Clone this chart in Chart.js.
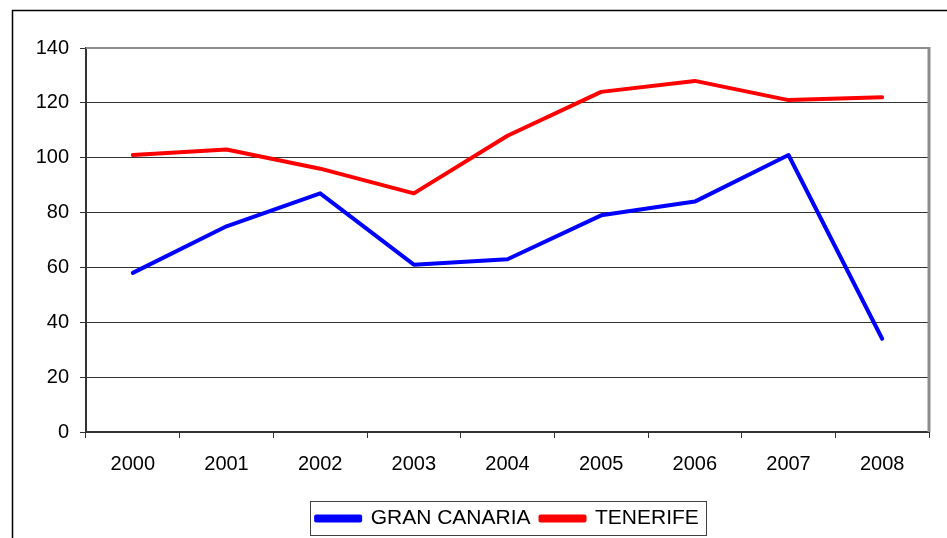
<!DOCTYPE html>
<html><head><meta charset="utf-8">
<script src="https://cdn.jsdelivr.net/npm/chart.js@4/dist/chart.umd.min.js"></script>
<style>html,body{margin:0;padding:0;background:#fff;}#wrap{width:947px;height:538px;position:relative;}canvas{display:block;}</style>
</head><body><div id="wrap"><canvas id="c" width="947" height="538"></canvas></div>
<script>
const years = ['2000','2001','2002','2003','2004','2005','2006','2007','2008'];
const granCanaria = [58, 75, 87, 61, 63, 79, 84, 101, 34];
const tenerife = [101, 103, 96, 87, 108, 124, 128, 121, 122];
const seriesNames = ['GRAN CANARIA', 'TENERIFE'];
const yMin = 0, yMax = 140, yStep = 20;

const FONT = "'Liberation Sans', Arial, sans-serif";

const framePlugin = {
  id: 'frame',
  beforeDraw(chart) {
    const ctx = chart.ctx;
    ctx.save();
    ctx.fillStyle = '#fff';
    ctx.fillRect(0, 0, chart.width, chart.height);
    ctx.strokeStyle = '#000';
    ctx.lineWidth = 1.5;
    ctx.strokeRect(12.5, 10.5, 1000, 1000);
    ctx.restore();
  },
  beforeDatasetsDraw(chart) {
    const {ctx, chartArea: a} = chart;
    ctx.save();
    ctx.strokeStyle = '#8c8c8c';
    ctx.lineWidth = 2;
    ctx.beginPath();
    ctx.moveTo(a.left, a.top);
    ctx.lineTo(a.right, a.top);
    ctx.stroke();
    ctx.lineWidth = 3;
    ctx.beginPath();
    ctx.moveTo(a.right, a.top - 1);
    ctx.lineTo(a.right, a.bottom);
    ctx.stroke();
    ctx.restore();
  },
  afterDraw(chart) {
    const boxes = chart.legend && chart.legend.legendHitBoxes;
    if (!boxes || !boxes.length) return;
    const ctx = chart.ctx;
    const first = boxes[0], last = boxes[boxes.length - 1];
    const l = Math.round(first.left - 6) + 0.5;
    const r = Math.round(last.left + last.width + 7) + 0.5;
    const t = Math.round(first.top - 7) + 0.5;
    const b = Math.round(first.top + first.height + 6) + 0.5;
    ctx.save();
    ctx.strokeStyle = '#404040';
    ctx.lineWidth = 1;
    ctx.strokeRect(l, t, r - l, b - t);
    ctx.restore();
  }
};

new Chart(document.getElementById('c'), {
  type: 'line',
  data: {
    labels: years,
    datasets: [
      { label: seriesNames[0], data: granCanaria, borderColor: '#0000ff', backgroundColor: '#0000ff',
        borderWidth: 4, pointRadius: 0, tension: 0, borderCapStyle: 'round', borderJoinStyle: 'round' },
      { label: seriesNames[1], data: tenerife, borderColor: '#ff0000', backgroundColor: '#ff0000',
        borderWidth: 4, pointRadius: 0, tension: 0, borderCapStyle: 'round', borderJoinStyle: 'round' }
    ]
  },
  options: {
    responsive: false,
    animation: false,
    devicePixelRatio: 1,
    layout: { padding: { left: 0, right: 18, top: 48, bottom: 0 } },
    plugins: {
      tooltip: { enabled: false },
      legend: {
        position: 'bottom',
        fullSize: false,
        maxHeight: 40,
        labels: {
          boxWidth: 44, boxHeight: 4, padding: 10,
          color: '#000', font: { family: FONT, size: 21 }
        }
      }
    },
    scales: {
      x: {
        offset: true,
        grid: { offset: true, drawOnChartArea: false, drawTicks: true, tickLength: 6, color: '#333', lineWidth: 1 },
        border: { color: '#333', width: 2 },
        ticks: { color: '#000', font: { family: FONT, size: 20 }, padding: 14, maxRotation: 0, autoSkip: false },
        afterFit(s) { s.height = 66; }
      },
      y: {
        min: yMin, max: yMax,
        grid: { color: '#333', lineWidth: 1, drawTicks: true, tickLength: 6 },
        border: { color: '#333', width: 2 },
        ticks: { stepSize: yStep, color: '#000', font: { family: FONT, size: 20 }, padding: 11 },
        afterFit(s) { s.width = 86; }
      }
    }
  },
  plugins: [framePlugin]
});
</script>
</body></html>
